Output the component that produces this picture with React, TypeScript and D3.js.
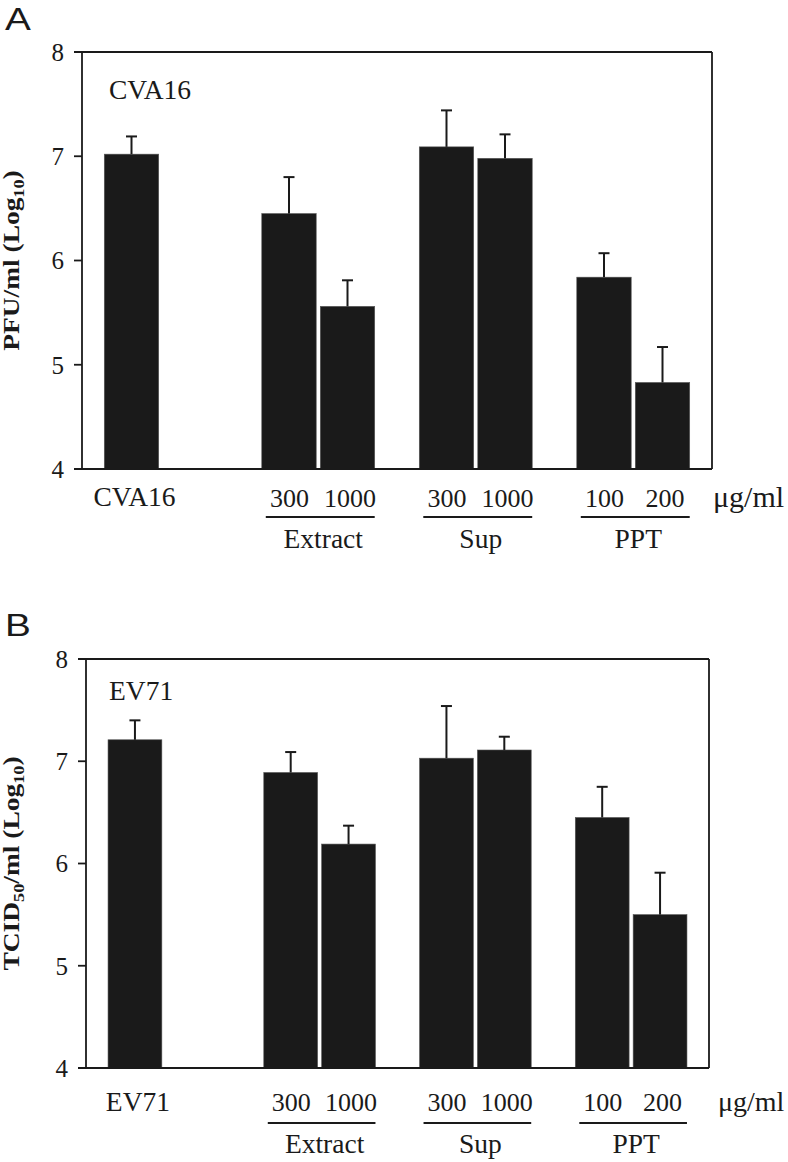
import React from 'react';
import * as d3 from 'd3';

// groups along the x axis, with two dose slots each
const groups = ['virus', 'Extract', 'Sup', 'PPT'];
const slots = ['0', '1'];
const barGroup = ['virus', 'Extract', 'Extract', 'Sup', 'Sup', 'PPT', 'PPT'];
const barSlot = ['0', '0', '1', '0', '1', '0', '1'];
const doseLabels = ['', '300', '1000', '300', '1000', '100', '200'];
const yTicks = [4, 5, 6, 7, 8];

// panel A: CVA16, PFU/ml (log10), mean and upper SD
const cva16Mean = [7.02, 6.45, 5.56, 7.09, 6.98, 5.84, 4.83];
const cva16Err = [0.17, 0.35, 0.25, 0.35, 0.23, 0.23, 0.34];

// panel B: EV71, TCID50/ml (log10)
const ev71Mean = [7.21, 6.89, 6.19, 7.03, 7.11, 6.45, 5.5];
const ev71Err = [0.19, 0.2, 0.18, 0.51, 0.13, 0.3, 0.41];

const serif = '"Liberation Serif", "Times New Roman", serif';
const ink = '#1a1a1a';
const nameSize = 27.5;
const doseSize = 26;

type PanelProps = {
  letter: string;
  letterY: number;
  virus: string;
  means: number[];
  errs: number[];
  top: number;
  bottom: number;
  left: number;
  right: number;
  titleMain: string;
  titleSub: string;
  titleRest: string;
  doseDy: number;
  lineDy: number;
  groupDy: number;
  virusDy: number;
  insideDy: number;
  unitX: number;
  unitSize: number;
};

const Panel = (p: PanelProps) => {
  const x0 = d3.scaleBand<string>().domain(groups).range([p.left, p.right])
    .paddingInner(0.283).paddingOuter(0.1415);
  const x1 = d3.scaleBand<string>().domain(slots).range([0, x0.bandwidth()])
    .paddingInner(0.07);
  const y = d3.scaleLinear().domain([4, 8]).range([p.bottom, p.top]);
  const bx = (i: number) => (x0(barGroup[i]) as number) + (x1(barSlot[i]) as number);
  const bw = x1.bandwidth();
  const midY = (p.top + p.bottom) / 2;

  return (
    <g>
      <text fontFamily='"Liberation Sans", Arial, sans-serif' fontSize={31}
        transform={`translate(5 ${p.letterY}) scale(1.25 1)`} fill={ink}>
        {p.letter}
      </text>

      {/* y title */}
      <text transform={`translate(19 ${midY}) rotate(-90) scale(1.22 1)`} textAnchor="middle"
        fontFamily={serif} fontWeight="bold" fontSize={22.5} fill={ink}>
        {p.titleMain}
        <tspan fontSize={15} dy={5}>{p.titleSub}</tspan>
        <tspan dy={-5}>{p.titleRest}</tspan>
        <tspan fontSize={15} dy={5}>10</tspan>
        <tspan dy={-5}>)</tspan>
      </text>

      {/* bars */}
      {p.means.map((m, i) => (
        <rect key={'b' + i} x={bx(i)} y={y(m)} width={bw} height={y(4) - y(m)}
          fill={ink} stroke="#555" strokeWidth={0.6} />
      ))}
      {p.means.map((m, i) => {
        const cx = bx(i) + bw / 2;
        return (
          <g key={'e' + i} stroke={ink} strokeWidth={2}>
            <line x1={cx} x2={cx} y1={y(m)} y2={y(m + p.errs[i])} />
            <line x1={cx - 5.5} x2={cx + 5.5} y1={y(m + p.errs[i])} y2={y(m + p.errs[i])} />
          </g>
        );
      })}

      {/* frame and axis */}
      <g stroke={ink} strokeWidth={1.8} fill="none">
        <line x1={p.left - 8} x2={p.right} y1={p.top} y2={p.top} />
        <line x1={p.left - 8} x2={p.right} y1={p.bottom} y2={p.bottom} />
        <line x1={p.left} x2={p.left} y1={p.top} y2={p.bottom} />
        <line x1={p.right} x2={p.right} y1={p.top} y2={p.bottom} />
        {yTicks.map(t => (
          <line key={t} x1={p.left - 8} x2={p.left} y1={y(t)} y2={y(t)} />
        ))}
      </g>
      {yTicks.map(t => (
        <text key={'t' + t} x={p.left - 18} y={y(t)} dy="0.35em" textAnchor="end"
          fontFamily={serif} fontSize={25} fill={ink}>{t}</text>
      ))}

      <text x={109} y={p.top + p.insideDy} fontFamily={serif} fontSize={nameSize} fill={ink}>{p.virus}</text>

      {/* x labels */}
      <text x={bx(0) + bw / 2 + 3} y={p.bottom + p.virusDy} textAnchor="middle"
        fontFamily={serif} fontSize={nameSize} fill={ink}>{p.virus}</text>
      {doseLabels.map((d, i) => d === '' ? null : (
        <text key={'d' + i} x={bx(i) + bw / 2 + (barSlot[i] === '1' ? 2.5 : 0.5)} y={p.bottom + p.doseDy}
          textAnchor="middle" fontFamily={serif} fontSize={doseSize} fill={ink}>{d}</text>
      ))}
      {groups.slice(1).map(g => {
        const gx = x0(g) as number;
        const l = gx + 4;
        const r = gx + x0.bandwidth();
        return (
          <g key={'g' + g}>
            <line x1={l} x2={r} y1={p.bottom + p.lineDy} y2={p.bottom + p.lineDy} stroke={ink} strokeWidth={2} />
            <text x={(l + r) / 2 + 3} y={p.bottom + p.groupDy} textAnchor="middle"
              fontFamily={serif} fontSize={nameSize} fill={ink}>{g}</text>
          </g>
        );
      })}
      <text x={p.unitX} y={p.bottom + p.doseDy} fontFamily={serif} fontSize={p.unitSize} fill={ink}>μg/ml</text>
    </g>
  );
};

export default function App() {
  return (
    <svg width={788} height={1162} style={{ position: 'absolute', left: 0, top: 0, background: '#fff' }}>
      <rect width={788} height={1162} fill="#fff" />
      <Panel letter="A" letterY={30} virus="CVA16" means={cva16Mean} errs={cva16Err}
        top={52} bottom={469} left={82} right={712}
        titleMain="PFU/ml (Log" titleSub="" titleRest=""
        doseDy={38} lineDy={48} groupDy={79} virusDy={37} insideDy={47} unitX={713} unitSize={30} />
      <Panel letter="B" letterY={636} virus="EV71" means={ev71Mean} errs={ev71Err}
        top={659} bottom={1068} left={86} right={709}
        titleMain="TCID" titleSub="50" titleRest="/ml (Log"
        doseDy={43} lineDy={55} groupDy={85} virusDy={43} insideDy={41} unitX={718} unitSize={28} />
    </svg>
  );
}
